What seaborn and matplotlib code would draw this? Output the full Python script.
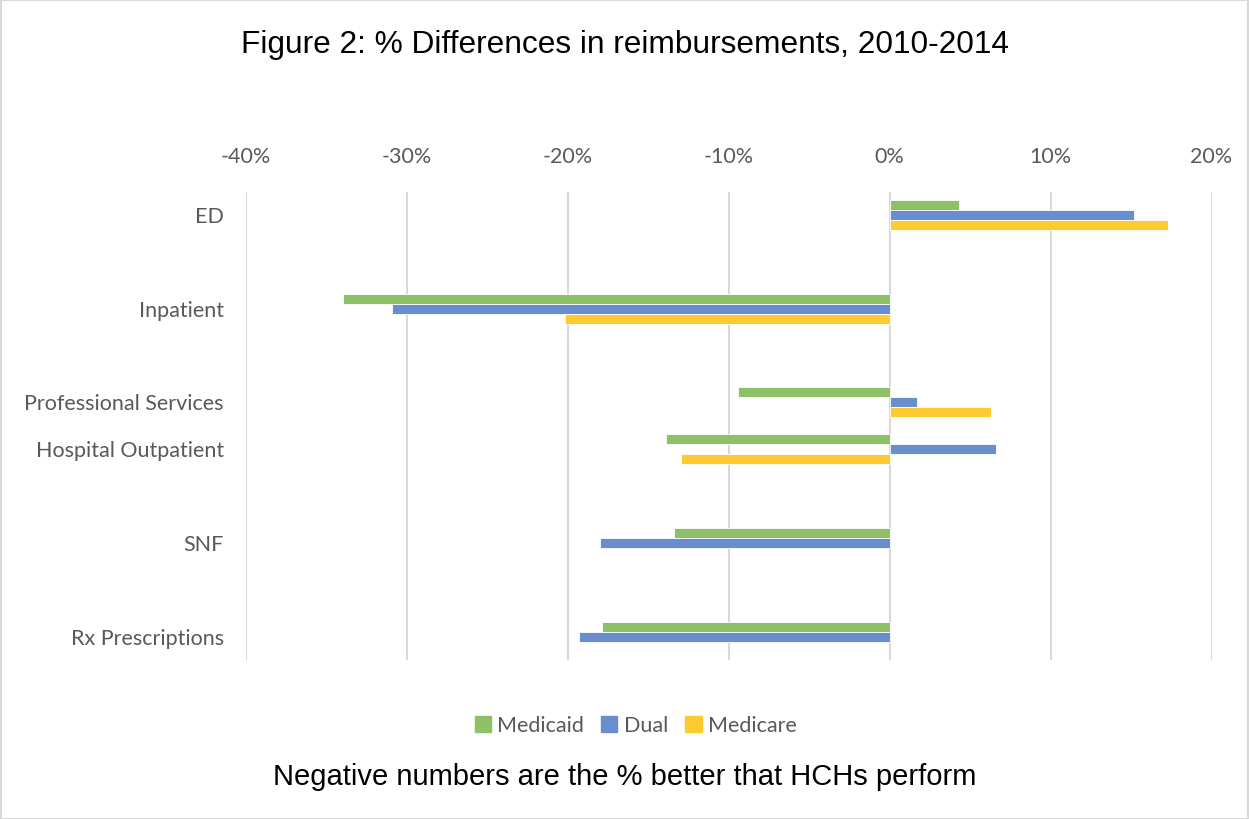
import matplotlib.pyplot as plt
import seaborn as sns
import pandas as pd
import numpy as np
from matplotlib.patches import Rectangle
from matplotlib.ticker import FuncFormatter

# data (percent differences); blank entries are the empty rows of the original sheet
categories = ["ED", " ", "Inpatient", "  ", "Professional Services",
              "Hospital Outpatient", "   ", "SNF", "    ", "Rx Prescriptions"]
medicaid = [4.3, np.nan, -34.0, np.nan, -9.4, -13.9, np.nan, -13.4, np.nan, -17.9]
dual = [15.2, np.nan, -30.9, np.nan, 1.7, 6.6, np.nan, -18.0, np.nan, -19.3]
medicare = [17.3, np.nan, -20.2, np.nan, 6.3, -13.0, np.nan, np.nan, np.nan, np.nan]
series = ["Medicaid", "Dual", "Medicare"]
colors = ["#8CC168", "#698ED0", "#FECA30"]
x_ticks = [-40, -30, -20, -10, 0, 10, 20]

df = pd.DataFrame({"category": categories * 3,
                   "value": medicaid + dual + medicare,
                   "series": np.repeat(series, len(categories))})
df = df.dropna()

sns.set_style("white")
plt.rcParams["font.family"] = ["Lato", "DejaVu Sans"]

fig = plt.figure(figsize=(12.49, 8.19), dpi=100)
ax = fig.add_axes([0.197, 0.194, 0.773, 0.572])

sns.barplot(data=df, y="category", x="value", hue="series", order=categories,
            hue_order=series, palette=colors, saturation=1, orient="h", width=0.64,
            errorbar=None, edgecolor="white", linewidth=0.6, ax=ax, legend=False)

ax.set_xlim(-40, 20)
ax.set_xticks(x_ticks)
ax.xaxis.set_major_formatter(FuncFormatter(lambda v, p: f"{v:.0f}%"))
ax.xaxis.tick_top()
ax.tick_params(axis="x", length=0, pad=18, labelsize=15.5, labelcolor="#595959")
ax.tick_params(axis="y", length=0, pad=16, labelsize=15.5, labelcolor="#595959")
ax.grid(axis="x", color="#D9D9D9", linewidth=1.5)
ax.set_axisbelow(True)
for s in ax.spines.values():
    s.set_visible(False)
ax.set_xlabel("")
ax.set_ylabel("")

handles = [Rectangle((0, 0), 1, 1, color=c) for c in colors]
fig.legend(handles, series, loc="center", bbox_to_anchor=(0.509, 0.114), ncol=3,
           frameon=False, fontsize=15.5, handlelength=0.75, handleheight=0.75,
           handletextpad=0.3, columnspacing=0.8, labelcolor="#595959")

fig.text(0.5, 0.945, "Figure 2: % Differences in reimbursements, 2010-2014",
         ha="center", va="center", fontsize=22.8, family="Liberation Sans", color="black")
fig.text(0.5, 0.051, "Negative numbers are the % better that HCHs perform",
         ha="center", va="center", fontsize=21, family="Liberation Sans", color="black")

fig.patches.append(Rectangle((0.0005, 0.0005), 0.999, 0.999, transform=fig.transFigure,
                             fill=False, edgecolor="#D9D9D9", linewidth=1.5))

fig.savefig("out.png", dpi=100, facecolor="white")
